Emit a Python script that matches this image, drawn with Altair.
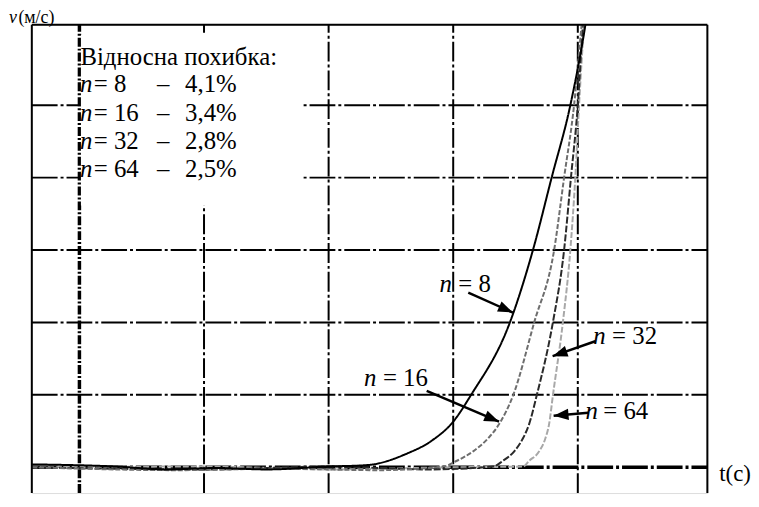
import altair as alt
import pandas as pd

# ---- data (t in s, v in m/s) ----
t_n8 = [-0.38, 0.3, 0.7, 1.1, 1.5, 1.99, 2.31, 2.63, 2.83, 3.0, 3.14, 3.455, 3.64, 3.79, 3.94, 4.06, 4.12]
v_n8 = [0.04, 0.01, -0.03, -0.01, -0.03, 0.01, 0.03, 0.19, 0.37, 0.63, 0.99, 2.0, 3.0, 4.0, 5.0, 6.1, 6.8]

t_n16 = [-0.38, 0.8, 1.6, 2.4, 2.92, 3.03, 3.16, 3.28, 3.37, 3.48, 3.65, 3.81, 3.89, 3.97, 4.03, 4.07]
v_n16 = [0.0, -0.04, -0.02, -0.04, 0.01, 0.09, 0.22, 0.4, 0.6, 0.99, 2.0, 3.0, 4.0, 5.0, 6.1, 6.8]

t_n32 = [-0.38, 1.0, 2.0, 2.8, 3.32, 3.4, 3.49, 3.56, 3.61, 3.67, 3.8, 3.89, 3.945, 4.0, 4.04, 4.08]
v_n32 = [0.0, -0.03, 0.01, -0.03, 0.01, 0.09, 0.22, 0.4, 0.6, 0.99, 2.0, 3.0, 4.0, 5.0, 6.1, 6.8]

t_n64 = [-0.38, 1.0, 2.0, 3.0, 3.56, 3.61, 3.69, 3.74, 3.77, 3.8, 3.88, 3.94, 3.98, 4.01, 4.05, 4.09]
v_n64 = [0.0, 0.01, -0.03, 0.0, 0.01, 0.09, 0.22, 0.4, 0.6, 0.99, 2.0, 3.0, 4.0, 5.0, 6.1, 6.8]

series_names = ["n = 64", "n = 32", "n = 16", "n = 8"]

x_grid = [1, 2, 3, 4]
y_grid = [1, 2, 3, 4, 5]

legend_title = "Відносна похибка:"
legend_n = ["8", "16", "32", "64"]
legend_err = ["4,1%", "3,4%", "2,8%", "2,5%"]

label_nums = ["8", "32", "16", "64"]

# ---- layout (data units) ----
X0, X1 = -0.3822, 5.0398
Y0, Y1 = -0.356, 6.110
xs = alt.Scale(domain=[X0, X1], nice=False, zero=False)
ys = alt.Scale(domain=[Y0, Y1], nice=False, zero=False)
FONT = "Times New Roman, Liberation Serif, DejaVu Serif, serif"


def X(f):
    return alt.X(f, type="quantitative", scale=xs, axis=None)


def Y(f):
    return alt.Y(f, type="quantitative", scale=ys, axis=None)


# grid
vgrid = pd.DataFrame({"x": x_grid, "y0": Y0, "y1": Y1})
vgrid0 = pd.DataFrame({"x": [0], "y0": [Y0], "y1": [Y1]})
hgrid = pd.DataFrame({"y": y_grid, "x0": X0, "x1": X1})
hgrid0 = pd.DataFrame({"y": [0], "x0": [X0], "x1": [X1]})

l_vgrid = alt.Chart(vgrid).mark_rule(color="black", strokeWidth=2, strokeDash=[20, 3, 3, 3]).encode(
    x=X("x"), y=Y("y0"), y2="y1")
l_vgrid0 = alt.Chart(vgrid0).mark_rule(color="black", strokeWidth=3.5, strokeDash=[9, 2, 2, 2]).encode(
    x=X("x"), y=Y("y0"), y2="y1")
l_hgrid = alt.Chart(hgrid).mark_rule(color="black", strokeWidth=2, strokeDash=[26, 3, 3, 3]).encode(
    y=Y("y"), x=X("x0"), x2="x1")
l_hgrid0 = alt.Chart(hgrid0).mark_rule(color="black", strokeWidth=3.5, strokeDash=[26, 3, 3, 3]).encode(
    y=Y("y"), x=X("x0"), x2="x1")

# white legend box
box = pd.DataFrame({"x0": [0.012], "x1": [1.791], "y0": [3.616], "y1": [5.97]})
l_box = alt.Chart(box).mark_rect(color="white").encode(x=X("x0"), x2="x1", y=Y("y0"), y2="y1")

# curves
rows = []
for name, ts, vs in [("n = 64", t_n64, v_n64), ("n = 32", t_n32, v_n32),
                     ("n = 16", t_n16, v_n16), ("n = 8", t_n8, v_n8)]:
    for i, (t, v) in enumerate(zip(ts, vs)):
        rows.append({"series": name, "t": t, "v": v, "i": i})
curves = pd.DataFrame(rows)
l_curves = alt.Chart(curves).mark_line(interpolate="monotone", clip=True).encode(
    x=X("t"), y=Y("v"),
    order="i:Q",
    color=alt.Color("series:N", scale=alt.Scale(domain=series_names,
                                                range=["#a8a8a8", "#2a2a2a", "#6e6e6e", "#000000"]), legend=None),
    strokeDash=alt.StrokeDash("series:N", scale=alt.Scale(domain=series_names,
                                                          range=[[6, 2], [7, 2], [5, 2], [1, 0]]), legend=None),
    strokeWidth=alt.StrokeWidth("series:N", scale=alt.Scale(domain=series_names,
                                                            range=[2, 2, 2, 2.6]), legend=None),
)

# frame (top, left, right)
frame_h = pd.DataFrame({"y": [Y1], "x0": [X0], "x1": [X1]})
frame_v = pd.DataFrame({"x": [X0, X1], "y0": [Y0, Y0], "y1": [Y1, Y1]})
l_frame_h = alt.Chart(frame_h).mark_rule(color="black", strokeWidth=2).encode(y=Y("y"), x=X("x0"), x2="x1")
l_frame_v = alt.Chart(frame_v).mark_rule(color="black", strokeWidth=2).encode(x=X("x"), y=Y("y0"), y2="y1")

# legend text
leg_rows_y = [5.178, 4.781, 4.397, 4.014]
leg_title = pd.DataFrame({"x": [0.008], "y": [5.562], "txt": [legend_title]})
leg_n = pd.DataFrame({"x": [0.004] * 4, "y": leg_rows_y, "txt": ["n"] * 4})
leg_eq = pd.DataFrame({"x": [0.115] * 4, "y": leg_rows_y, "txt": ["= " + s for s in legend_n]})
leg_dash = pd.DataFrame({"x": [0.673] * 4, "y": leg_rows_y, "txt": ["–"] * 4})
leg_err = pd.DataFrame({"x": [0.848] * 4, "y": leg_rows_y, "txt": legend_err})


def text_layer(df, italic=False, align="left", size=25):
    kw = dict(align=align, baseline="alphabetic", font=FONT, fontSize=size, color="black")
    if italic:
        kw["fontStyle"] = "italic"
    return alt.Chart(df).mark_text(**kw).encode(x=X("x"), y=Y("y"), text="txt:N")


# curve labels
lab_n = pd.DataFrame({"x": [2.890, 4.124, 2.285, 4.061], "y": [2.425, 1.699, 1.123, 0.671], "txt": ["n"] * 4})
lab_eq = pd.DataFrame({"x": [3.041, 4.275, 2.436, 4.204], "y": [2.425, 1.699, 1.123, 0.671],
                       "txt": ["= " + s for s in label_nums]})

# arrows
arrows = pd.DataFrame({
    "x0": [3.121, 4.140, 2.787, 4.084],
    "y0": [2.411, 1.740, 1.055, 0.753],
    "x1": [3.479, 3.798, 3.368, 3.806],
    "y1": [2.137, 1.534, 0.630, 0.712],
    "ang": [24, 161, 23, 175],
})
l_shaft = alt.Chart(arrows).mark_rule(color="black", strokeWidth=2.5).encode(
    x=X("x0"), y=Y("y0"), x2="x1", y2="y1")
l_head = alt.Chart(arrows).mark_point(shape="M0,0 L-2,-0.75 L-2,0.75 Z", filled=True, color="black",
                                      opacity=1, size=225, strokeWidth=0).encode(
    x=X("x1"), y=Y("y1"), angle=alt.Angle("ang:Q", scale=None))

# axis labels
ax_v = pd.DataFrame({"x": [-0.565], "y": [6.13], "txt": ["v"]})
ax_v2 = pd.DataFrame({"x": [-0.490], "y": [6.13], "txt": ["(м/с)"]})
ax_t = pd.DataFrame({"x": [5.135], "y": [-0.192], "txt": ["t(c)"]})

chart = alt.layer(
    l_vgrid, l_vgrid0, l_hgrid, l_hgrid0, l_box,
    l_curves,
    l_frame_h, l_frame_v,
    text_layer(leg_title), text_layer(leg_n, italic=True), text_layer(leg_eq),
    text_layer(leg_dash, align="center"), text_layer(leg_err),
    text_layer(lab_n, italic=True), text_layer(lab_eq),
    l_shaft, l_head,
    text_layer(ax_v, italic=True, size=18), text_layer(ax_v2, size=18), text_layer(ax_t, size=23),
).properties(
    width=681, height=472,
    autosize="none",
    padding={"left": 24, "top": 15, "right": 44, "bottom": 0},
).configure_view(stroke=None).configure(background="white")

chart.save("out.html", embed_options={"renderer": "svg", "actions": False})
